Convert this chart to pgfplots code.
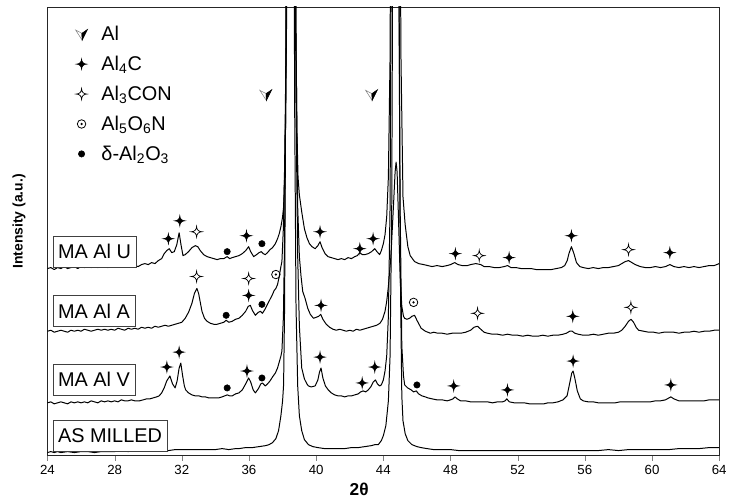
\documentclass[border=0pt]{standalone}
\usepackage{fontspec}
\setmainfont{Liberation Sans}
\usepackage{pgfplots}
\pgfplotsset{compat=1.18}
\usetikzlibrary{calc}

% four-point star, concave sides
\pgfdeclareplotmark{star4}{%
  \pgfpathmoveto{\pgfqpoint{0pt}{\pgfplotmarksize}}%
  \pgfpathcurveto{\pgfqpoint{0pt}{0.4\pgfplotmarksize}}{\pgfqpoint{0.4\pgfplotmarksize}{0pt}}{\pgfqpoint{\pgfplotmarksize}{0pt}}%
  \pgfpathcurveto{\pgfqpoint{0.4\pgfplotmarksize}{0pt}}{\pgfqpoint{0pt}{-0.4\pgfplotmarksize}}{\pgfqpoint{0pt}{-\pgfplotmarksize}}%
  \pgfpathcurveto{\pgfqpoint{0pt}{-0.4\pgfplotmarksize}}{\pgfqpoint{-0.4\pgfplotmarksize}{0pt}}{\pgfqpoint{-\pgfplotmarksize}{0pt}}%
  \pgfpathcurveto{\pgfqpoint{-0.4\pgfplotmarksize}{0pt}}{\pgfqpoint{0pt}{0.4\pgfplotmarksize}}{\pgfqpoint{0pt}{\pgfplotmarksize}}%
  \pgfpathclose
  \pgfusepathqfillstroke}
% circle with centre dot
\pgfdeclareplotmark{odot}{%
  \pgfpathcircle{\pgfpointorigin}{\pgfplotmarksize}\pgfusepathqstroke
  \pgfpathcircle{\pgfpointorigin}{0.3\pgfplotmarksize}\pgfusepathqfill}
% shaded arrow head for Al
\pgfdeclareplotmark{alarrow}{%
  \pgfpathmoveto{\pgfqpoint{0.1\pgfplotmarksize}{-\pgfplotmarksize}}%
  \pgfpathlineto{\pgfqpoint{-\pgfplotmarksize}{0.7\pgfplotmarksize}}%
  \pgfpathlineto{\pgfqpoint{0.05\pgfplotmarksize}{0.15\pgfplotmarksize}}%
  \pgfpathclose
  \pgfsetfillcolor{white}\pgfsetstrokecolor{gray}\pgfusepathqfillstroke
  \pgfpathmoveto{\pgfqpoint{0.1\pgfplotmarksize}{-\pgfplotmarksize}}%
  \pgfpathlineto{\pgfqpoint{0.05\pgfplotmarksize}{0.15\pgfplotmarksize}}%
  \pgfpathlineto{\pgfqpoint{\pgfplotmarksize}{0.8\pgfplotmarksize}}%
  \pgfpathclose
  \pgfsetfillcolor{black}\pgfsetstrokecolor{black}\pgfusepathqfillstroke}

\pgfplotsset{
  phase/.style={only marks,
    legend image code/.code={\path (0cm,0cm) (0.7cm,0cm); \draw[##1] plot coordinates {(0.25cm,0cm)};}},
  trace/.style={black, line width=0.75pt, line join=round, forget plot},
}
\tikzset{samplebox/.style={draw=black!75, fill=white, anchor=west, inner xsep=4pt, minimum height=23pt, font=\fontsize{15}{17}\selectfont}}

\begin{document}
\begin{tikzpicture}
\begin{axis}[
  name=ax,
  scale only axis,
  width=506.5pt, height=338.25pt,
  xmin=24, xmax=64, ymin=0, ymax=451,
  xtick={24,28,...,64}, ytick=\empty,
  xtick pos=left, tick align=outside, major tick length=3.75pt,
  axis line style={line width=0.6pt, black!85},
  /pgf/number format/assume math mode=true,
  ticklabel style={font=\fontsize{10}{12}\selectfont},
  xlabel={\textbf{2θ}},
  every axis x label/.style={at={(rel axis cs:0.464,0)}, anchor=north, yshift=-17pt, font=\fontsize{13}{15}\selectfont},
  ylabel={\textbf{Intensity (a.u.)}},
  every axis y label/.style={at={(rel axis cs:0,0.522)}, xshift=-21.5pt, rotate=90, anchor=center, font=\fontsize{10.5}{12}\selectfont},
  legend style={draw=none, fill=none, at={(rel axis cs:0.03,0.97)}, anchor=north west,
    font=\fontsize{15}{17}\selectfont, row sep=6.2pt},
  legend cell align=left,
]
% AS MILLED
\addplot[trace] coordinates {
(24.0,3)(24.2,4)(24.4,3)(24.6,4)(24.8,3)(25.2,4)(25.6,3)(26.0,4)(26.4,4)(26.8,3)
(27.2,4)(27.6,4)(28.0,4)(28.4,5)(28.8,4)(29.2,5)(29.6,5)(30.0,5)(30.4,5)(30.8,6)
(31.2,5)(31.6,6)(32.0,6)(32.4,6)(32.8,6)(33.2,6)(33.6,6)(34.0,6)(34.4,7)(34.8,6)
(35.2,7)(35.4,7)(35.8,8)(36.2,8)(36.6,9)(37.0,10)(37.2,11)(37.4,13)(37.6,17)(37.76,25)
(37.9,40)(38.0,55)(38.06,71)(38.12,150)(38.18,350)(38.24,650)(38.35,1500)(38.55,1400)(38.65,700)(38.72,350)
(38.8,150)(38.9,70)(39.0,40)(39.14,25)(39.3,16)(39.54,11)(39.8,9)(40.1,8)(40.5,7)(40.9,7)
(41.3,7)(41.7,7)(42.1,8)(42.5,8)(42.9,9)(43.29,10)(43.5,11)(43.7,11)(43.88,15)(44.0,20)
(44.15,30)(44.3,55)(44.4,100)(44.5,250)(44.6,700)(44.7,1400)(44.8,1300)(44.9,600)(45.0,200)(45.1,60)
(45.17,35)(45.3,22)(45.46,15)(45.7,11)(46.0,9)(46.25,8)(46.6,7)(47.0,6)(47.5,6)(48.0,6)
(48.5,5)(49.0,5)(49.61,5)(50.2,5)(50.8,5)(51.4,5)(52.0,5)(52.6,5)(53.2,5)(53.8,5)
(54.4,5)(55.0,5)(55.6,5)(56.2,5)(56.8,5)(57.4,6)(58.0,5)(58.6,6)(59.2,6)(59.8,6)
(60.4,6)(61.0,6)(61.6,7)(62.2,7)(62.8,7)(63.4,8)(64.0,8)
};
% MA Al V
\addplot[trace] coordinates {
(24.0,53)(24.2,54)(24.4,52)(24.6,53)(24.8,54)(25.0,53)(25.2,52)(25.4,54)(25.6,53)(25.8,54)
(26.0,53)(26.2,54)(26.4,53)(26.6,55)(26.8,54)(27.0,53)(27.2,55)(27.4,54)(27.6,55)(27.8,54)
(28.0,55)(28.2,54)(28.4,56)(28.6,55)(28.8,55)(29.0,56)(29.2,55)(29.47,55)(29.7,56)(29.9,57)
(30.1,57)(30.3,58)(30.5,59)(30.65,60)(30.8,63)(30.95,68)(31.1,75)(31.29,80)(31.45,72)(31.6,68)
(31.72,75)(31.84,88)(31.94,93)(32.05,80)(32.15,70)(32.23,66)(32.4,63)(32.6,61)(32.8,60)(33.02,60)
(33.2,59)(33.4,59)(33.6,58)(33.8,58)(34.0,58)(34.2,58)(34.4,59)(34.55,60)(34.7,61)(34.85,60)
(35.0,60)(35.2,62)(35.4,63)(35.6,66)(35.8,72)(35.98,78)(36.1,74)(36.25,66)(36.38,63)(36.55,67)
(36.7,72)(36.8,73)(36.97,70)(37.1,72)(37.25,75)(37.4,79)(37.57,83)(37.7,88)(37.8,94)(37.9,100)
(37.96,105)(38.05,140)(38.12,220)(38.2,380)(38.3,700)(38.4,1300)(38.5,1600)(38.6,1200)(38.7,700)(38.8,350)
(38.9,200)(39.0,130)(39.14,88)(39.3,77)(39.45,72)(39.54,70)(39.7,69)(39.94,70)(40.1,76)(40.2,84)
(40.29,88)(40.4,78)(40.55,70)(40.72,66)(40.9,63)(41.1,61)(41.3,60)(41.5,60)(41.7,59)(41.9,60)
(42.1,60)(42.3,61)(42.5,62)(42.65,64)(42.8,65)(42.95,64)(43.1,66)(43.25,69)(43.4,74)(43.53,76)
(43.65,72)(43.78,70)(43.88,71)(44.0,76)(44.1,85)(44.2,100)(44.3,140)(44.4,250)(44.5,600)(44.6,1200)
(44.7,1500)(44.8,1100)(44.9,600)(45.0,250)(45.1,110)(45.2,80)(45.27,71)(45.45,68)(45.66,66)(45.8,64)
(45.96,65)(46.1,62)(46.3,60)(46.5,59)(46.65,58)(46.9,57)(47.2,56)(47.5,56)(47.8,55)(48.0,56)
(48.15,57)(48.27,59)(48.4,57)(48.6,55)(48.9,55)(49.2,54)(49.61,54)(49.9,54)(50.2,54)(50.5,53)
(50.8,54)(51.1,54)(51.25,55)(51.35,57)(51.5,54)(51.8,53)(52.1,53)(52.4,53)(52.7,52)(53.0,52)
(53.3,52)(53.56,52)(53.8,53)(54.1,53)(54.4,54)(54.7,56)(54.94,60)(55.1,73)(55.22,83)(55.3,85)
(55.4,78)(55.55,65)(55.73,57)(55.9,55)(56.2,54)(56.5,54)(56.8,53)(57.1,53)(57.5,53)(57.8,53)
(58.1,54)(58.4,54)(58.7,54)(59.0,54)(59.3,54)(59.6,54)(59.9,54)(60.2,55)(60.5,55)(60.8,56)
(61.12,59)(61.3,57)(61.6,55)(61.9,55)(62.2,55)(62.5,55)(62.8,55)(63.1,55)(63.4,56)(63.7,56)
(64.0,56)
};
% MA Al A
\addplot[trace] coordinates {
(24.0,125)(24.2,126)(24.4,124)(24.6,125)(24.8,126)(25.0,125)(25.2,124)(25.4,126)(25.6,125)(25.8,126)
(26.0,125)(26.2,127)(26.4,126)(26.6,125)(26.8,126)(27.0,127)(27.2,126)(27.4,127)(27.6,126)(27.8,127)
(28.0,126)(28.2,128)(28.4,127)(28.6,126)(28.8,128)(29.0,127)(29.2,128)(29.4,127)(29.6,129)(29.8,128)
(30.0,129)(30.2,128)(30.4,130)(30.6,129)(30.8,130)(31.0,131)(31.2,130)(31.4,131)(31.6,132)(31.8,133)
(32.0,134)(32.2,138)(32.4,144)(32.6,153)(32.75,163)(32.9,168)(33.0,163)(33.1,154)(33.2,145)(33.35,138)
(33.5,135)(33.7,133)(33.9,132)(34.1,132)(34.3,133)(34.5,134)(34.64,136)(34.8,134)(35.0,135)(35.2,137)
(35.4,138)(35.6,141)(35.8,145)(35.95,150)(36.08,151)(36.2,146)(36.38,141)(36.55,144)(36.68,145)(36.8,143)
(36.95,147)(37.1,152)(37.25,157)(37.4,162)(37.5,166)(37.6,168)(37.7,172)(37.8,180)(37.9,190)(37.96,195)
(38.05,230)(38.12,290)(38.2,400)(38.3,700)(38.4,1300)(38.5,1700)(38.6,1300)(38.7,800)(38.8,420)(38.9,250)
(39.0,200)(39.1,180)(39.2,165)(39.34,158)(39.5,148)(39.65,142)(39.84,138)(40.0,139)(40.15,140)(40.27,142)
(40.4,137)(40.6,132)(40.8,129)(41.0,127)(41.2,126)(41.4,127)(41.6,126)(41.8,125)(42.0,126)(42.2,125)
(42.4,127)(42.6,126)(42.8,127)(43.0,128)(43.2,129)(43.4,130)(43.6,131)(43.8,133)(43.95,137)(44.1,145)
(44.2,155)(44.3,170)(44.45,200)(44.6,250)(44.7,285)(44.76,295)(44.82,285)(44.9,240)(45.0,180)(45.1,150)
(45.2,140)(45.27,138)(45.4,137)(45.56,138)(45.7,140)(45.86,141)(46.0,136)(46.25,128)(46.5,125)(46.8,123)
(47.0,124)(47.24,123)(47.5,123)(47.8,122)(48.1,123)(48.4,123)(48.62,123)(48.9,124)(49.2,126)(49.4,129)
(49.61,130)(49.8,127)(50.0,124)(50.2,123)(50.5,122)(50.8,122)(51.1,121)(51.4,122)(51.7,121)(52.0,121)
(52.3,120)(52.6,121)(52.9,120)(53.2,120)(53.5,121)(53.8,120)(54.1,121)(54.4,121)(54.7,122)(54.9,123)
(55.1,125)(55.25,125)(55.4,123)(55.6,122)(55.9,121)(56.2,121)(56.5,122)(56.8,121)(57.1,122)(57.4,123)
(57.7,123)(58.0,124)(58.2,126)(58.4,130)(58.6,135)(58.75,137)(58.9,134)(59.05,129)(59.2,126)(59.5,125)
(59.8,124)(60.1,124)(60.4,123)(60.7,124)(61.0,124)(61.3,124)(61.6,123)(61.9,124)(62.2,124)(62.5,125)
(62.8,124)(63.1,125)(63.4,125)(63.7,126)(64.0,126)
};
% MA Al U
\addplot[trace] coordinates {
(24.0,188)(24.2,189)(24.4,187)(24.6,189)(24.8,188)(25.0,190)(25.2,188)(25.4,189)(25.6,190)(25.8,188)
(26.0,190)(26.2,189)(26.4,191)(26.6,189)(26.8,190)(27.0,189)(27.2,191)(27.4,190)(27.6,189)(27.8,191)
(28.0,190)(28.2,192)(28.4,190)(28.6,191)(28.8,190)(29.0,192)(29.2,191)(29.4,190)(29.6,192)(29.8,193)
(30.0,192)(30.2,194)(30.4,193)(30.6,196)(30.8,198)(30.95,203)(31.1,206)(31.25,208)(31.4,204)(31.55,205)
(31.7,212)(31.84,224)(31.95,212)(32.07,201)(32.2,202)(32.4,205)(32.6,209)(32.8,211)(32.95,210)(33.1,206)
(33.3,202)(33.5,200)(33.7,199)(33.9,198)(34.1,197)(34.3,198)(34.5,198)(34.7,200)(34.85,198)(35.0,199)
(35.2,200)(35.4,201)(35.6,203)(35.8,206)(35.98,210)(36.1,205)(36.28,200)(36.45,202)(36.6,204)(36.73,205)
(36.85,203)(36.97,202)(37.1,204)(37.25,207)(37.4,209)(37.57,213)(37.7,218)(37.8,223)(37.9,230)(38.0,240)
(38.06,250)(38.12,280)(38.18,340)(38.24,440)(38.3,620)(38.4,1200)(38.5,1600)(38.6,1200)(38.7,700)(38.78,460)
(38.85,330)(38.92,280)(39.0,262)(39.14,245)(39.3,228)(39.45,219)(39.6,213)(39.75,210)(39.94,208)(40.1,211)
(40.23,215)(40.35,209)(40.53,203)(40.7,200)(40.9,199)(41.1,198)(41.3,197)(41.5,198)(41.7,197)(41.9,199)
(42.1,198)(42.3,200)(42.45,201)(42.6,204)(42.75,202)(42.9,202)(43.1,203)(43.3,205)(43.49,208)(43.62,205)
(43.78,202)(43.88,206)(44.0,213)(44.1,222)(44.2,240)(44.3,280)(44.4,400)(44.5,800)(44.65,1400)(44.8,1200)
(44.95,700)(45.05,400)(45.17,260)(45.3,232)(45.46,210)(45.6,201)(45.86,195)(46.1,193)(46.4,192)(46.65,191)
(46.9,190)(47.2,191)(47.5,190)(47.8,191)(48.0,192)(48.25,194)(48.45,192)(48.7,191)(49.0,191)(49.2,192)
(49.5,193)(49.8,192)(50.0,190)(50.3,190)(50.6,189)(50.9,189)(51.2,190)(51.4,191)(51.6,189)(51.9,189)
(52.2,188)(52.5,188)(52.8,188)(53.1,187)(53.4,187)(53.7,187)(54.0,187)(54.3,188)(54.6,189)(54.8,191)
(54.95,196)(55.05,203)(55.2,210)(55.35,203)(55.5,194)(55.7,190)(55.9,189)(56.2,188)(56.5,189)(56.8,188)
(57.1,189)(57.4,189)(57.7,190)(58.0,191)(58.2,193)(58.4,195)(58.6,196)(58.8,194)(59.0,192)(59.3,190)
(59.6,189)(59.9,189)(60.2,190)(60.5,189)(60.8,190)(61.06,192)(61.3,190)(61.6,189)(61.9,190)(62.2,189)
(62.5,190)(62.8,189)(63.1,190)(63.4,191)(63.7,191)(64.0,193)
};
% phase markers
\addplot[phase, mark=alarrow, mark size=4.5pt] coordinates {(37.0,363)(43.3,363)};
\addlegendentry{Al}
\addplot[phase, mark=star4, mark size=4pt, mark options={fill=black, draw=black, line width=0.4pt}] coordinates {
(31.2,218)(31.88,236)(35.85,221)(40.23,225)(42.6,208)(43.39,218)(48.29,203)(51.49,199)(55.2,221)(61.06,204)
(35.98,161)(40.29,151)(55.28,140)
(31.11,89)(31.84,104)(35.88,85)(40.23,99)(42.74,73)(43.49,89)(48.19,70)(51.39,66)(55.3,95)(61.12,71)
};
\addlegendentry{Al\textsubscript{4}C}
\addplot[phase, mark=star4, mark size=4pt, mark options={fill=white, draw=black, line width=0.55pt}] coordinates {
(32.88,225)(49.71,201)(58.6,207)
(32.88,180)(35.98,178)(49.61,143)(58.74,149)
};
\addlegendentry{Al\textsubscript{3}CON}
\addplot[phase, mark=odot, mark size=3.2pt, mark options={fill=black, draw=black, line width=0.6pt}] coordinates {
(37.6,182)(45.8,154)
};
\addlegendentry{Al\textsubscript{5}O\textsubscript{6}N}
\addplot[phase, mark=*, mark size=2.4pt, mark options={fill=black, draw=black}] coordinates {
(34.7,205)(36.77,213)(34.64,141)(36.77,152)(34.7,68)(36.77,78)(46.0,71)
};
\addlegendentry{δ-Al\textsubscript{2}O\textsubscript{3}}
% sample labels
\node[samplebox] at (axis cs:24.3,205) {MA Al U};
\node[samplebox] at (axis cs:24.3,145.5) {MA Al A};
\node[samplebox] at (axis cs:24.3,76.3) {MA Al V};
\node[samplebox] at (axis cs:24.3,20) {AS MILLED};
\end{axis}
\path ($(ax.south west)+(-35.8pt,-30.75pt)$) rectangle ($(ax.north east)+(6pt,5.25pt)$);
\end{tikzpicture}
\end{document}
